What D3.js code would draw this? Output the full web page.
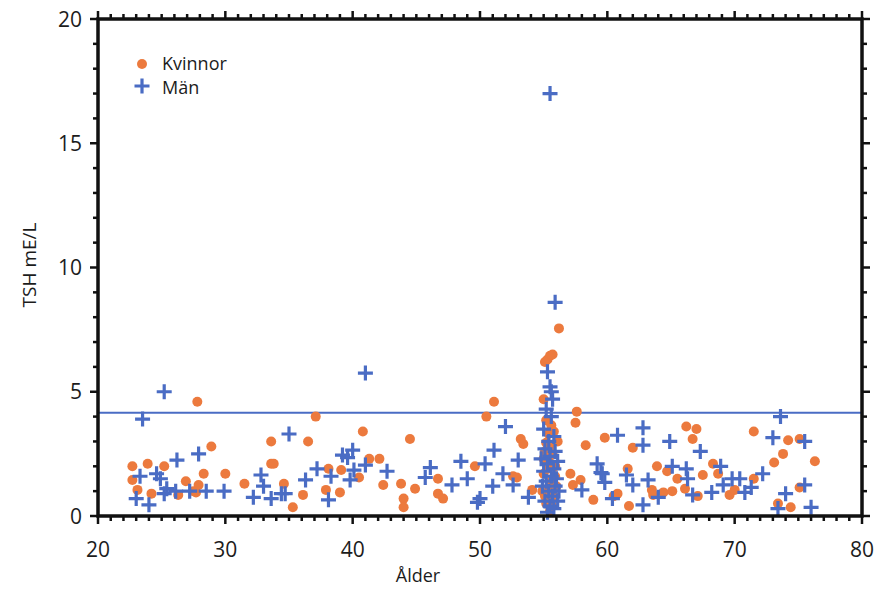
<!DOCTYPE html>
<html lang="sv">
<head>
<meta charset="utf-8">
<title>TSH mot ålder</title>
<script src="https://d3js.org/d3.v7.min.js"></script>
<style>
  body { margin: 0; background: white; }
  text { font-family: "Open Sans", sans-serif; fill: #1c1c1c; }
</style>
</head>
<body>
<svg width="877" height="589"></svg>
<script>
// Kvinnor: [ålder, TSH]
var kvinnor = [
  [22.7,2.0],[22.7,1.45],[23.1,1.05],[23.9,2.1],[24.2,0.9],[25.2,2.0],[26.3,0.85],[26.9,1.4],
  [27.5,1.0],[27.7,0.95],[27.8,4.6],[27.9,1.25],[28.3,1.7],[28.9,2.8],[30.0,1.7],[31.5,1.3],
  [33.6,3.0],[33.6,2.1],[33.8,2.1],[34.6,1.3],[35.3,0.35],[36.1,0.85],[36.5,3.0],[37.1,4.0],
  [37.9,1.05],[38.1,1.9],[39.0,0.95],[39.1,1.85],[40.5,1.55],[40.8,3.4],[41.3,2.3],[42.1,2.3],
  [42.4,1.25],[43.8,1.3],[44.0,0.7],[44.0,0.35],[44.5,3.1],[44.9,1.1],[46.7,1.5],[46.7,0.9],
  [47.1,0.7],[49.6,2.0],[50.5,4.0],[51.1,4.6],[52.6,1.6],[52.9,1.55],[53.2,3.1],[53.4,2.9],
  [54.1,1.05],[57.1,1.7],[57.5,3.75],[57.6,4.2],[57.9,1.45],[57.3,1.25],[58.3,2.85],[58.9,0.65],
  [59.8,3.15],[60.8,0.9],[60.5,0.8],[61.6,1.9],[61.7,0.4],[62.0,2.75],[63.5,1.05],[63.6,0.85],
  [63.9,2.0],[64.4,0.95],[64.7,1.8],[65.1,1.0],[65.5,1.5],[66.1,1.1],[66.2,3.6],[66.7,3.1],
  [67.0,3.5],[67.1,0.8],[67.5,1.65],[68.3,2.1],[68.7,1.7],[69.6,0.85],[70.0,1.05],[71.5,3.4],
  [71.5,1.5],[73.1,2.15],[73.4,0.5],[73.8,2.5],[74.2,3.05],[74.4,0.35],[75.1,3.1],[75.1,1.15],
  [76.3,2.2],
  // tät grupp kring 55 år
  [56.2,7.55],[55.3,6.3],[55.5,6.45],[55.7,6.5],[55.1,6.2],[55.0,4.7],[55.2,3.85],[55.6,3.65],
  [55.8,3.4],[55.2,2.95],[55.5,2.8],[55.1,2.6],[55.4,2.3],[55.9,2.0],[55.0,1.7],[55.6,1.4],
  [55.3,1.1],[55.8,0.8],[55.2,0.5],[55.5,0.2],[54.9,1.0],[56.0,1.2],[55.4,3.3],[55.0,2.3],
  [55.7,2.5],[55.3,1.9],[55.9,1.6],[55.1,0.8],[55.6,0.45],[56.1,3.0]
];

// Män: [ålder, TSH]
var man = [
  [23.0,0.7],[23.3,1.6],[23.5,3.9],[24.0,0.45],[24.6,1.7],[24.9,1.5],[25.2,5.0],[25.2,0.9],
  [25.4,1.1],[26.1,1.0],[26.2,2.25],[27.2,1.0],[27.9,2.5],[28.5,1.0],[29.9,1.0],[32.2,0.75],
  [32.8,1.65],[33.0,1.2],[33.6,0.7],[34.4,0.9],[34.7,0.9],[35.0,3.3],[36.3,1.45],[37.2,1.9],
  [38.1,0.65],[38.3,1.6],[39.2,2.45],[39.6,2.35],[39.8,1.45],[40.0,2.65],[40.1,1.85],[41.0,5.75],
  [41.0,2.05],[42.7,1.8],[45.7,1.55],[46.1,1.95],[47.8,1.25],[48.5,2.2],[49.0,1.5],[49.8,0.55],
  [50.0,0.7],[50.4,2.1],[51.1,2.65],[51.0,1.2],[51.8,1.7],[52.0,3.6],[52.6,1.25],[53.0,2.25],
  [53.8,0.75],[58.0,1.05],[59.2,2.1],[59.5,1.75],[59.6,1.7],[59.8,1.35],[60.4,0.7],[60.8,3.25],
  [61.5,1.65],[62.0,1.25],[62.8,3.55],[62.8,2.85],[62.8,0.45],[63.2,1.45],[64.0,0.75],[64.9,3.0],
  [65.1,2.0],[66.2,1.9],[66.3,1.5],[66.7,0.85],[67.3,2.6],[68.2,0.95],[68.9,2.0],[69.1,1.25],
  [69.8,1.5],[70.4,1.5],[70.8,0.95],[71.3,1.15],[72.2,1.7],[73.0,3.15],[73.4,0.3],[73.6,4.0],
  [74.0,0.9],[75.5,3.0],[75.5,1.25],[76.0,0.35],
  // tät grupp kring 55 år
  [55.5,17.0],[55.9,8.6],[55.3,5.8],[55.5,5.2],[55.7,4.7],[55.2,4.3],[55.6,4.0],[55.0,3.5],
  [55.8,3.2],[55.4,3.0],[55.1,2.7],[55.9,2.6],[55.5,2.4],[55.3,2.1],[55.8,1.9],[55.0,1.8],
  [55.6,1.6],[55.2,1.4],[55.9,1.2],[55.4,1.0],[55.7,0.8],[55.1,0.6],[55.5,0.4],[55.3,0.15],
  [55.8,0.3],[56.1,2.2],[54.8,2.3],[56.2,1.0],[56.0,1.5],[54.9,1.2],[56.1,0.6],[55.6,5.0]
];

var refLine = 4.15;          // övre referensgräns
var xTicks = [20, 30, 40, 50, 60, 70, 80];
var yTicks = [0, 5, 10, 15, 20];

var orange = "#ec7a3e",
    blue = "#4a6cc4";

var svg = d3.select("svg");
var pLeft = 98, pRight = 862, pTop = 19, pBottom = 516;

var x = d3.scaleLinear().domain([20, 80]).range([pLeft, pRight]);
var y = d3.scaleLinear().domain([0, 20]).range([pBottom, pTop]);

// minor ticks every 1 unit, major every 10 (x) / 5 (y)
var xMinor = d3.range(20, 81, 1);
var yMinor = d3.range(0, 21, 1);

var ticks = svg.append("g").attr("stroke", "#111").attr("stroke-width", 2.5);
xMinor.forEach(function(v) {
  var len = v % 10 === 0 ? 8 : 5;
  ticks.append("line").attr("x1", x(v)).attr("x2", x(v)).attr("y1", pBottom).attr("y2", pBottom + len);
  ticks.append("line").attr("x1", x(v)).attr("x2", x(v)).attr("y1", pTop).attr("y2", pTop - len);
});
yMinor.forEach(function(v) {
  var len = v % 5 === 0 ? 8 : 5;
  ticks.append("line").attr("y1", y(v)).attr("y2", y(v)).attr("x1", pLeft).attr("x2", pLeft - len);
  ticks.append("line").attr("y1", y(v)).attr("y2", y(v)).attr("x1", pRight).attr("x2", pRight + len);
});

// tick labels
svg.append("g").selectAll("text").data(xTicks).enter().append("text")
  .attr("x", function(d) { return x(d); })
  .attr("y", 557)
  .attr("text-anchor", "middle")
  .attr("font-size", "21px")
  .text(function(d) { return d; });

svg.append("g").selectAll("text").data(yTicks).enter().append("text")
  .attr("x", 82)
  .attr("y", function(d) { return y(d) + 7.5; })
  .attr("text-anchor", "end")
  .attr("font-size", "21px")
  .text(function(d) { return d; });

// axis titles
svg.append("text")
  .attr("x", 418).attr("y", 582)
  .attr("text-anchor", "middle")
  .attr("font-size", "18px")
  .text("Ålder");

svg.append("text")
  .attr("transform", "translate(36,265) rotate(-90)")
  .attr("text-anchor", "middle")
  .attr("font-size", "19px")
  .text("TSH mE/L");

// reference line
svg.append("line")
  .attr("x1", pLeft).attr("x2", pRight)
  .attr("y1", y(refLine)).attr("y2", y(refLine))
  .attr("stroke", blue).attr("stroke-width", 2);

// points
var plot = svg.append("g");
plot.selectAll("circle").data(kvinnor).enter().append("circle")
  .attr("cx", function(d) { return x(d[0]); })
  .attr("cy", function(d) { return y(d[1]); })
  .attr("r", 5)
  .attr("fill", orange);

var cross = "M-7.5,0H7.5M0,-7.5V7.5";
plot.selectAll("path").data(man).enter().append("path")
  .attr("transform", function(d) { return "translate(" + x(d[0]) + "," + y(d[1]) + ")"; })
  .attr("d", cross)
  .attr("stroke", blue)
  .attr("stroke-width", 3.2)
  .attr("fill", "none");

// frame
svg.append("rect")
  .attr("x", pLeft).attr("y", pTop)
  .attr("width", pRight - pLeft).attr("height", pBottom - pTop)
  .attr("fill", "none").attr("stroke", "#111").attr("stroke-width", 3.5);

// legend
var legend = svg.append("g");
legend.append("circle").attr("cx", 142).attr("cy", 64).attr("r", 5).attr("fill", orange);
legend.append("path").attr("transform", "translate(142,86)").attr("d", cross)
  .attr("stroke", blue).attr("stroke-width", 3.2);
legend.append("text").attr("x", 162).attr("y", 70).attr("font-size", "18px").text("Kvinnor");
legend.append("text").attr("x", 162).attr("y", 94).attr("font-size", "18px").text("Män");
</script>
</body>
</html>
